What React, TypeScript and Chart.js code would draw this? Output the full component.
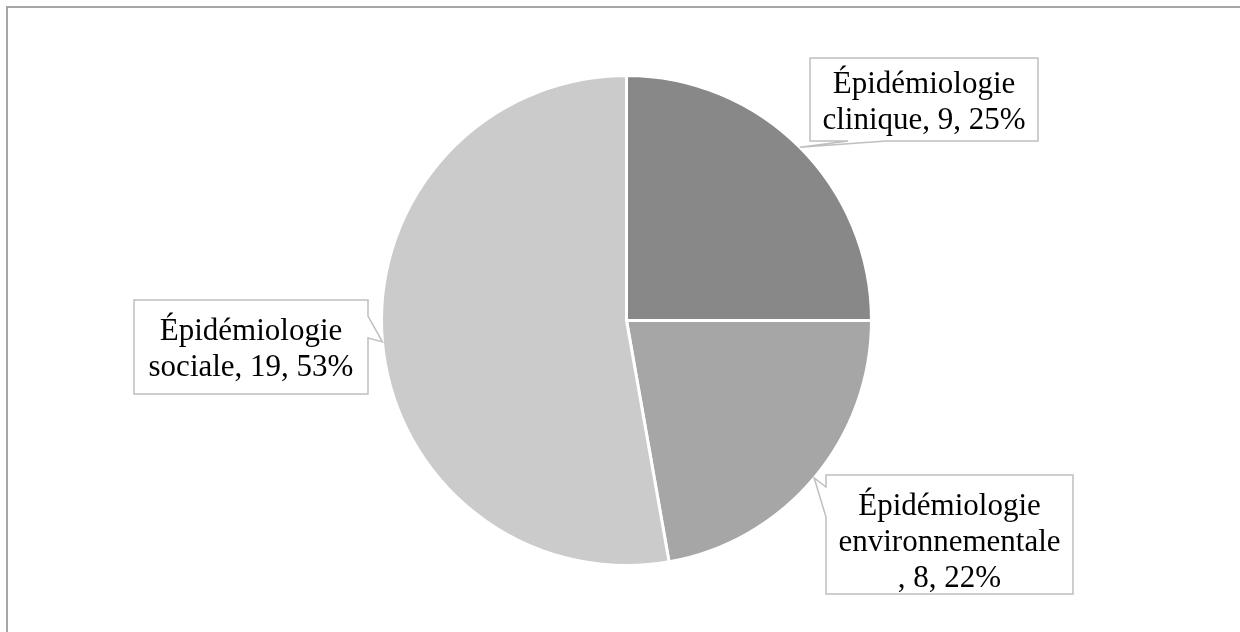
import React, { useEffect, useRef } from "react";
import { Chart, registerables } from "chart.js";

Chart.register(...registerables);

// Pie data: research themes, number of studies per theme
const categoryHeads = ["Épidémiologie", "Épidémiologie", "Épidémiologie"];
const categoryTails = ["clinique", "environnementale", "sociale"];
const counts = [9, 8, 19];
const sliceColors = ["#888888", "#a6a6a6", "#cbcbcb"];

// Callout boxes (pixel layout), the edge that carries the pointer, and a text nudge
type Box = { x: number; y: number; w: number; h: number; side: "left" | "right" | "bottom"; a: number; b: number; dy: number };
const calloutBoxes: Box[] = [
  { x: 810, y: 58, w: 228, h: 83, side: "bottom", a: 848, b: 886, dy: 0 },
  { x: 826, y: 475, w: 247, h: 119, side: "left", a: 487, b: 517, dy: 5 },
  { x: 134, y: 300, w: 234, h: 94, side: "right", a: 316, b: 338, dy: 0 },
];

const FONT = "31px 'Liberation Serif', 'Times New Roman', serif";
const LINE_H = 36;

function buildLines(ctx: CanvasRenderingContext2D, i: number, innerW: number): string[] {
  const total = counts.reduce((s, v) => s + v, 0);
  const pct = Math.round((counts[i] / total) * 100);
  const suffix = `, ${counts[i]}, ${pct}%`;
  const joined = categoryTails[i] + suffix;
  if (ctx.measureText(joined).width <= innerW) return [categoryHeads[i], joined];
  return [categoryHeads[i], categoryTails[i], suffix];
}

const framePlugin = {
  id: "frame",
  beforeDraw(chart: any) {
    const ctx = chart.ctx as CanvasRenderingContext2D;
    ctx.save();
    ctx.fillStyle = "#ffffff";
    ctx.fillRect(0, 0, chart.width, chart.height);
    ctx.strokeStyle = "#a6a6a6";
    ctx.lineWidth = 2;
    ctx.strokeRect(7, 7, chart.width + 20, chart.height + 20);
    ctx.restore();
  },
};

const calloutPlugin = {
  id: "callouts",
  afterDatasetsDraw(chart: any) {
    const ctx = chart.ctx as CanvasRenderingContext2D;
    const meta = chart.getDatasetMeta(0);
    ctx.save();
    ctx.font = FONT;
    meta.data.forEach((arc: any, i: number) => {
      const p = arc.getProps(["x", "y", "startAngle", "endAngle", "outerRadius"], true);
      const mid = (p.startAngle + p.endAngle) / 2;
      const tx = p.x + Math.cos(mid) * p.outerRadius;
      const ty = p.y + Math.sin(mid) * p.outerRadius;
      const bx = calloutBoxes[i];
      const { x, y, w, h } = bx;

      ctx.beginPath();
      ctx.moveTo(x, y);
      ctx.lineTo(x + w, y);
      if (bx.side === "right") {
        ctx.lineTo(x + w, bx.a);
        ctx.lineTo(tx, ty);
        ctx.lineTo(x + w, bx.b);
      }
      ctx.lineTo(x + w, y + h);
      if (bx.side === "bottom") {
        ctx.lineTo(bx.b, y + h);
        ctx.lineTo(tx, ty);
        ctx.lineTo(bx.a, y + h);
      }
      ctx.lineTo(x, y + h);
      if (bx.side === "left") {
        ctx.lineTo(x, bx.b);
        ctx.lineTo(tx, ty);
        ctx.lineTo(x, bx.a);
      }
      ctx.closePath();
      ctx.fillStyle = "#ffffff";
      ctx.fill();
      ctx.strokeStyle = "#bfbfbf";
      ctx.lineWidth = 1.5;
      ctx.stroke();

      const lines = buildLines(ctx, i, w - 20);
      ctx.fillStyle = "#000000";
      ctx.textAlign = "center";
      ctx.textBaseline = "alphabetic";
      const cy = y + h / 2;
      const first = cy - ((lines.length - 1) * LINE_H) / 2 + 11 + bx.dy;
      lines.forEach((ln, k) => ctx.fillText(ln, x + w / 2, first + k * LINE_H));
    });
    ctx.restore();
  },
};

export default function App() {
  const ref = useRef<HTMLCanvasElement | null>(null);

  useEffect(() => {
    if (!ref.current) return;
    const chart = new Chart(ref.current, {
      type: "pie",
      data: {
        labels: categoryTails.map((t, i) => `${categoryHeads[i]} ${t}`),
        datasets: [
          {
            data: counts,
            backgroundColor: sliceColors,
            borderColor: "#ffffff",
            borderWidth: 3,
          },
        ],
      },
      options: {
        animation: false,
        responsive: false,
        devicePixelRatio: 1,
        layout: { padding: { top: 74, bottom: 65, left: 380, right: 367 } },
        plugins: {
          legend: { display: false },
          tooltip: { enabled: false },
        },
      },
      plugins: [framePlugin, calloutPlugin],
    });
    return () => chart.destroy();
  }, []);

  return (
    <div style={{ position: "absolute", left: 0, top: 0, width: 1240, height: 632 }}>
      <canvas ref={ref} width={1240} height={632} style={{ display: "block" }} />
    </div>
  );
}
